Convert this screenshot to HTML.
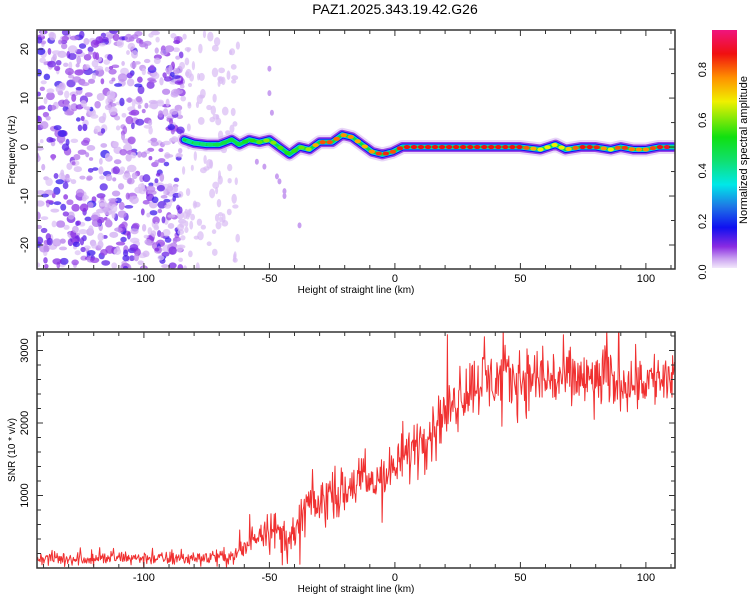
<!DOCTYPE html>
<html><head><meta charset="utf-8"><style>
html,body{margin:0;padding:0;background:#fff;}
svg{display:block;font-family:"Liberation Sans",sans-serif;}
</style></head><body>
<svg id="c" width="750" height="600" viewBox="0 0 750 600" xmlns="http://www.w3.org/2000/svg">
<defs>
<linearGradient id="cb" x1="0" y1="1" x2="0" y2="0">
<stop offset="0" stop-color="#f2e8fb"/><stop offset="0.04" stop-color="#c9a0f0"/>
<stop offset="0.09" stop-color="#8a2be2"/><stop offset="0.17" stop-color="#1010f0"/>
<stop offset="0.26" stop-color="#1e78e6"/><stop offset="0.35" stop-color="#00e8e8"/>
<stop offset="0.45" stop-color="#10e070"/><stop offset="0.55" stop-color="#10e010"/>
<stop offset="0.7" stop-color="#f0f000"/><stop offset="0.8" stop-color="#ff9000"/>
<stop offset="0.9" stop-color="#f01010"/><stop offset="1" stop-color="#f0147e"/>
</linearGradient>
<clipPath id="clipTop"><rect x="37" y="30" width="638" height="239"/></clipPath>
<clipPath id="clipBot"><rect x="37" y="332" width="638" height="236"/></clipPath>
</defs>
<text x="395" y="14" text-anchor="middle" font-size="14">PAZ1.2025.343.19.42.G26</text>
<g id="topPanel"></g>
<g id="botPanel"></g>
<g id="cbar">
<rect x="712" y="30" width="25" height="238" fill="url(#cb)"/>
<text transform="translate(747,150) rotate(-90)" text-anchor="middle" font-size="11">Normalized spectral amplitude</text>
</g>
</svg>
<script>
// ---- data ----
const xTicks = [-100, -50, 0, 50, 100];
const freqTicks = [-20, -10, 0, 10, 20];
const snrTicks = [1000, 2000, 3000];
const cbTicks = ["0.0", "0.2", "0.4", "0.6", "0.8"];
const cbTickValues = [0, 0.2, 0.4, 0.6, 0.8];
const ridgeKm = [-84,-80,-75,-70,-65,-62,-58,-54,-50,-46,-42,-38,-34,-30,-25,-21,-17,-13,-9,-5,-1,3,10,20,30,40,50,58,64,68,74,80,86,90,95,100,105,111];
const ridgeHz = [1.5,0.8,0.5,0.5,1.5,0.5,1.5,1,1.5,0,-1.5,0,-0.5,1,1,2.5,2,0.5,-1,-1.5,-1,0,0,0,0,0,0,-0.5,0.5,-0.5,0,0,-0.5,0,-0.5,-0.5,0,0];
const ridgeAmp = [0.4,0.45,0.45,0.5,0.5,0.5,0.55,0.6,0.65,0.6,0.55,0.6,0.65,0.85,0.85,0.8,0.8,0.75,0.8,0.9,0.85,0.9,0.9,0.9,0.9,0.9,0.9,0.7,0.7,0.7,0.9,0.9,0.7,0.9,0.8,0.8,0.9,0.95];
const snrKm = [-142,-130,-120,-110,-100,-90,-80,-70,-65,-60,-55,-50,-45,-40,-35,-30,-25,-20,-15,-10,-5,0,5,10,15,20,25,30,35,45,55,65,75,85,95,105,112];
const snrTrend = [130,130,130,140,140,130,140,150,160,250,500,600,450,400,900,850,1050,1000,1200,1150,1250,1350,1600,1800,1950,2150,2350,2500,2600,2600,2620,2600,2600,2580,2600,2600,2620];
const snrNoise = [70,70,70,70,70,70,70,80,90,120,180,200,180,180,280,250,250,250,250,250,250,250,250,250,250,280,300,320,330,330,350,340,320,300,300,300,300];

// ---- axes ----
const X0=37,X1=675,KM0=-142.6,KM1=111.6;
const xs = km => X0 + (km-KM0)/(KM1-KM0)*(X1-X0);
const T0=30,T1=269,F0=23.9,F1=-24.9;
const yf = hz => T0 + (F0-hz)/(F0-F1)*(T1-T0);
const B0=332,B1=568;
const ys = v => B1 - v*0.0725;
const NS="http://www.w3.org/2000/svg";
function mk(tag, parent, attrs){const e=document.createElementNS(NS,tag);for(const k in attrs)e.setAttribute(k,attrs[k]);parent.appendChild(e);return e;}
function interp(xa, ya, x){if(x<=xa[0])return ya[0];for(let i=1;i<xa.length;i++){if(x<=xa[i]){const t=(x-xa[i-1])/(xa[i]-xa[i-1]);return ya[i-1]+t*(ya[i]-ya[i-1]);}}return ya[ya.length-1];}
// deterministic texture generator (noise texture only)
let seed=12345;function rnd(){seed=(seed*1103515245+12345)%2147483648;return seed/2147483648;}
function color(a){const st=[[0,[242,232,251]],[0.04,[201,160,240]],[0.09,[138,43,226]],[0.17,[16,16,240]],[0.26,[30,120,230]],[0.35,[0,232,232]],[0.45,[16,224,112]],[0.55,[16,224,16]],[0.7,[240,240,0]],[0.8,[255,144,0]],[0.9,[240,16,16]],[1,[240,20,126]]];
 if(a<=0)return "rgb(242,232,251)";
 for(let i=1;i<st.length;i++){if(a<=st[i][0]){const t=(a-st[i-1][0])/(st[i][0]-st[i-1][0]);const c=st[i-1][1].map((v,j)=>Math.round(v+t*(st[i][1][j]-v)));return "rgb("+c.join(",")+")";}}return "rgb(240,20,126)";}

function frame(g, y0, y1, name){
  mk('rect', g, {x:X0,y:y0,width:X1-X0,height:y1-y0,fill:'none',stroke:'#333','stroke-width':1.5,});
  for(let km=-140;km<=110;km+=10){const x=xs(km);const L=(km%50===0)?6:4;
    mk('line',g,{x1:x,x2:x,y1:y1,y2:y1-L,stroke:'#333'});mk('line',g,{x1:x,x2:x,y1:y0,y2:y0+L,stroke:'#333'});}
  xTicks.forEach(t=>{const e=mk('text',g,{x:xs(t),y:y1+13,'text-anchor':'middle','font-size':11});e.textContent=t;
    
    });
  const ti=mk('text',g,{x:356,y:y1+24,'text-anchor':'middle','font-size':10});ti.textContent='Height of straight line (km)';
  
  
}

// ---- top: spectrogram ----
const topG=document.getElementById('topPanel');
const tc=mk('g',topG,{'clip-path':'url(#clipTop)'});
for(let i=0;i<720;i++){const km=KM0+rnd()*58;const hz=F1+rnd()*(F0-F1);const r=rnd();const a=0.02+r*r*0.13;
  const e=mk('ellipse',tc,{cx:xs(km),cy:yf(hz),rx:1.8+rnd()*3,ry:1.8+rnd()*2.5,fill:color(a),opacity:0.75});
  
  }
for(let i=0;i<120;i++){const km=-86+rnd()*24;const hz=F1+rnd()*(F0-F1);
  mk('ellipse',tc,{cx:xs(km),cy:yf(hz),rx:1.5+rnd()*2,ry:2+rnd()*3,fill:color(0.025),opacity:0.7});}
const extra=[[-50,16],[-50,11],[-49,7],[-47,-6],[-46,-7],[-44,-9],[-44,-10],[-38,-16],[-52,-4],[-55,-3]];
extra.forEach(p=>mk('ellipse',tc,{cx:xs(p[0]),cy:yf(p[1]),rx:2,ry:3,fill:color(0.04)}));
const rpts=ridgeKm.map((k,i)=>xs(k)+','+yf(ridgeHz[i])).join(' ');
[[14,0.025,0.6],[10,0.08,1],[7,0.17,1],[5,0.33,1],[3,0.5,1]].forEach(s=>{
  const p=mk('polyline',tc,{points:rpts,fill:'none',stroke:color(s[1]),'stroke-width':s[0],'stroke-linejoin':'round','stroke-linecap':'round',opacity:s[2]});
  
  });
for(let km=-82;km<=111;km+=2.8){const hz=interp(ridgeKm,ridgeHz,km);const a=interp(ridgeKm,ridgeAmp,km);
  const d=mk('ellipse',tc,{cx:xs(km),cy:yf(hz),rx:3.2,ry:2,fill:color(a)});
  
  }
frame(topG,T0,T1,'spectrogram');
for(let hz=-20;hz<=20;hz+=5){const y=yf(hz);const L=(hz%10===0)?6:4;
  mk('line',topG,{x1:X0,x2:X0+L,y1:y,y2:y,stroke:'#333'});mk('line',topG,{x1:X1,x2:X1-L,y1:y,y2:y,stroke:'#333'});}
freqTicks.forEach(t=>{const e=mk('text',topG,{transform:'translate(28,'+yf(t)+') rotate(-90)','text-anchor':'middle','font-size':11});e.textContent=t;
  
  });
const yt=mk('text',topG,{transform:'translate(15,150) rotate(-90)','text-anchor':'middle','font-size':10});yt.textContent='Frequency (Hz)';



// ---- bottom: SNR ----
const botG=document.getElementById('botPanel');
const bc=mk('g',botG,{'clip-path':'url(#clipBot)'});
let pts=[];
for(let km=KM0;km<=KM1;km+=0.25){const tr=interp(snrKm,snrTrend,km);const na=interp(snrKm,snrNoise,km);
  let n=(rnd()+rnd()+rnd()-1.5)*1.3; if(rnd()<0.12) n*=2.2;
  let v=tr+n*na; if(v<0)v=Math.abs(v)*0.5; pts.push(xs(km).toFixed(1)+','+ys(v).toFixed(1));}
const line=mk('polyline',bc,{points:pts.join(' '),fill:'none',stroke:'#f03030','stroke-width':1,'stroke-linejoin':'round'});


frame(botG,B0,B1,'snr');
for(let v=200;v<=3200;v+=200){const y=ys(v);const L=(v%1000===0)?6:4;
  mk('line',botG,{x1:X0,x2:X0+L,y1:y,y2:y,stroke:'#333'});mk('line',botG,{x1:X1,x2:X1-L,y1:y,y2:y,stroke:'#333'});}
snrTicks.forEach(t=>{const e=mk('text',botG,{transform:'translate(28,'+ys(t)+') rotate(-90)','text-anchor':'middle','font-size':11});e.textContent=t;
  
  });
const yt2=mk('text',botG,{transform:'translate(15,450) rotate(-90)','text-anchor':'middle','font-size':10});yt2.textContent='SNR (10 * v/v)';



// ---- colorbar ticks ----
const cbar=document.getElementById('cbar');
cbTicks.forEach((t,i)=>{const y=272-cbTickValues[i]*253;const e=mk('text',cbar,{transform:'translate(706,'+y+') rotate(-90)','text-anchor':'middle','font-size':11});e.textContent=t;
  
  });
</script>
</body></html>
